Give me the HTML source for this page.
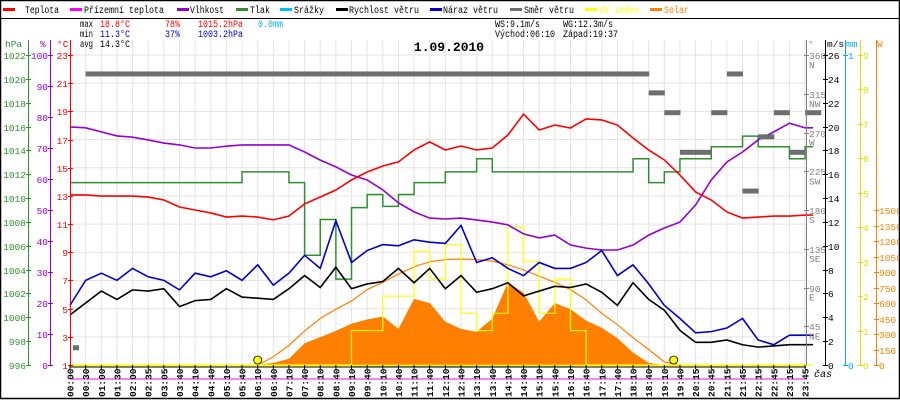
<!DOCTYPE html>
<html><head><meta charset="utf-8"><style>
html,body{margin:0;padding:0;background:#fff}
svg{display:block;font-family:"Liberation Mono","DejaVu Sans Mono",monospace}
</style></head><body>
<svg id="chart" width="900" height="400" viewBox="0 0 900 400" xmlns="http://www.w3.org/2000/svg">
<rect x="0" y="0" width="900" height="400" fill="#fff"/>
<g id="grid"></g>
<g id="marks"></g>
<g id="axes"></g>
<g id="legend" font-size="10"></g>
<g id="stats" font-size="10"></g>
<text x="449" y="51" text-anchor="middle" font-size="13" font-weight="bold" fill="#000">1.09.2010</text>
<rect x="0.5" y="0.5" width="899" height="398" fill="none" stroke="#000" stroke-width="1.5"/>
<line x1="0" y1="18.5" x2="900" y2="18.5" stroke="#000"/>
</svg>
<script>
const timeLabels=["00:00","00:30","01:00","01:30","02:00","02:35","03:05","03:40","04:10","04:40","05:10","05:40","06:10","06:40","07:10","07:40","08:10","08:40","09:10","09:40","10:10","10:40","11:10","11:40","12:10","12:40","13:10","13:40","14:10","14:40","15:10","15:40","16:10","16:40","17:10","17:40","18:10","18:40","19:10","19:40","20:15","20:45","21:15","21:45","22:15","22:45","23:15","23:45"];
const temperature=[13.07,13.07,12.99,12.99,12.99,12.92,12.71,12.21,12.0,11.79,11.5,11.57,11.5,11.3,11.57,12.43,12.92,13.42,14.13,14.7,15.12,15.41,16.26,16.83,16.26,16.54,16.26,16.4,17.32,18.8,17.68,18.03,17.82,18.46,18.39,18.03,17.11,16.26,15.55,14.48,13.28,12.71,11.86,11.43,11.5,11.57,11.57,11.64];
const humidity=[76.8,76.5,75.2,73.9,73.5,72.6,71.6,71.0,70.0,70.0,70.6,71.0,71.0,71.0,71.0,68.7,66.1,63.9,61.3,59.7,56.5,52.3,49.4,47.4,47.1,47.4,46.8,46.1,45.2,42.3,41.0,41.9,38.7,37.7,37.1,37.1,38.7,41.9,44.2,46.1,51.6,59.7,65.5,68.7,72.6,75.2,78.0,76.5];
const pressure=[1011.3,1011.3,1011.3,1011.3,1011.3,1011.3,1011.3,1011.3,1011.3,1011.3,1011.3,1012.2,1012.2,1012.2,1011.3,1005.2,1008.2,1003.2,1009.2,1010.3,1009.3,1010.3,1011.3,1011.3,1012.2,1012.2,1013.3,1012.2,1012.2,1012.2,1012.2,1012.2,1012.2,1012.2,1012.2,1012.2,1013.3,1011.3,1012.2,1013.3,1013.3,1014.3,1014.3,1015.2,1014.3,1014.3,1013.3,1014.3];
const windSpeed=[4.2,5.2,6.2,5.5,6.3,6.2,6.4,4.9,5.4,5.5,6.4,5.7,5.6,5.5,6.4,7.5,6.5,8.2,6.4,6.8,7.0,8.1,6.9,8.1,6.4,7.5,6.1,6.4,6.9,5.8,6.2,6.6,6.5,6.8,6.1,5.0,6.9,5.5,4.6,2.9,1.9,1.9,2.1,1.7,1.5,1.6,1.7,1.7];
const windGust=[5.0,7.1,7.7,7.1,8.1,7.4,7.1,6.3,7.7,7.4,7.9,7.1,8.4,6.7,7.7,9.2,8.1,12.1,8.6,9.6,10.1,10.0,10.5,10.3,10.2,11.7,8.6,9.0,8.1,7.5,8.6,8.1,8.1,8.6,9.6,7.5,8.4,6.8,5.0,3.9,2.7,2.8,3.1,3.9,2.1,1.7,2.5,2.5];
const windDir=[20,338,338,338,338,338,338,338,338,338,338,338,338,338,338,338,338,338,338,338,338,338,338,338,338,338,338,338,338,338,338,338,338,338,338,338,338,316,293,247,247,293,338,202,265,293,247,293];
const solar=[0,0,0,0,0,0,0,0,0,0,0,0,0,20,60,210,270,330,400,440,470,350,640,600,420,350,320,450,800,700,420,600,540,430,360,260,120,20,0,0,0,0,0,0,0,0,0,0];
const solarMax=[0,0,0,0,0,0,0,0,0,0,0,0,0,80,190,330,450,540,620,730,800,880,950,1000,1020,1026,1020,1005,970,920,860,800,730,630,500,390,265,150,30,0,0,0,0,0,0,0,0,0];
const uvIndex=[0,0,0,0,0,0,0,0,0,0,0,0,0,0,0,0,0,0,1.0,1.0,2.0,2.0,3.3,2.5,3.5,1.5,1.0,1.5,4.0,3.0,1.5,2.5,1.0,0,0,0,0,0,0,0,0,0,0,0,0,0,0,0];
const sunEvents=[12.0,38.6];
const tempTicks=[1,3,5,7,9,11,13,15,17,19,21,23];
const humTicks=[0,10,20,30,40,50,60,70,80,90,100];
const presTicks=[996,998,1000,1002,1004,1006,1008,1010,1012,1014,1016,1018,1020,1022];
const windTicks=[0,2,4,6,8,10,12,14,16,18,20,22,24,26];
const dirTicks=[45,90,135,180,225,270,315,360];
const dirNames=["NE","E","SE","S","SW","W","NW","N"];
const uvTicks=[0,1,2,3,4,5,6,7,8,9];
const solarTicks=[0,150,300,450,600,750,900,1050,1200,1350,1500];

const NS="http://www.w3.org/2000/svg";
const X0=70,DX=15.64,YB=365,YT=55;
const xS=i=>X0+i*DX;
const yT=v=>YB-(v-1)*(YB-YT)/22;
const yH=v=>YB-v*(YB-YT)/100;
const yP=v=>YB-(v-996)*(YB-YT)/26;
const yW=v=>YB-v*(YB-YT)/26;
const yD=v=>YB-v*(YB-YT)/360;
const yU=v=>YB-v*(YB-YT)/9;
const yS=v=>YB-v*155/1500;
function el(tag,attrs,parent){const e=document.createElementNS(NS,tag);for(const k in attrs)e.setAttribute(k,attrs[k]);parent.appendChild(e);return e;}
const grid=document.getElementById('grid'),marks=document.getElementById('marks'),axes=document.getElementById('axes');

for(let i=0;i<timeLabels.length;i++){
  const g=el('line',{x1:xS(i),y1:40,x2:xS(i),y2:YB,stroke:'#e6e2e2','stroke-width':1},grid);
  
  
}
tempTicks.forEach(t=>{
  const g=el('line',{x1:X0,y1:yT(t),x2:806,y2:yT(t),stroke:'#e6e2e2','stroke-width':1},grid);
  
  
});
const gl=el('line',{x1:X0,y1:379,x2:806,y2:379,stroke:'#ff00ff','stroke-width':1},marks);



{let d=`M${xS(0)},${YB}`;solar.forEach((v,i)=>{d+=` L${xS(i)},${yS(v)}`});d+=` L${xS(solar.length-1)},${YB} Z`;
const p=el('path',{d:d,fill:'#ff8000',stroke:'none'},marks);

}
{const pts=[];solarMax.forEach((v,i)=>{if(v>0||(solarMax[i-1]>0)||(solarMax[i+1]>0))pts.push(xS(i)+','+yS(v))});
const p=el('polyline',{points:pts.join(' '),fill:'none',stroke:'#ff8000','stroke-width':1.2},marks);

}
function stepLine(arr,fy,color,w,name){
  let d='';arr.forEach((v,i)=>{const x=xS(i),y=fy(v);d+=(i===0?`M${x},${y}`:` H${x} V${y}`)});
  d+=` H${xS(arr.length-1)+8}`;
  const p=el('path',{d:d,fill:'none',stroke:color,'stroke-width':w},marks);
  
  
}
function line(arr,fy,color,w,name){
  const p=el('polyline',{points:arr.map((v,i)=>xS(i)+','+fy(v)).join(' ')+' '+(xS(arr.length-1)+8)+','+fy(arr[arr.length-1]),fill:'none',stroke:color,'stroke-width':w},marks);
  
  
}
stepLine(uvIndex,yU,'#ffff00',1.2,'uv-index-line');
const rl=el('line',{x1:353,y1:366,x2:575,y2:366,stroke:'#00c0ff','stroke-width':2},marks);


stepLine(pressure,yP,'#2f8f2f',1.5,'pressure-line');
line(humidity,yH,'#9400d3',1.6,'humidity-line');
line(temperature,yT,'#ff0000',1.6,'temperature-line');
line(windGust,yW,'#0000cc',1.6,'wind-gust-line');
line(windSpeed,yW,'#000000',1.6,'wind-speed-line');
windDir.forEach((v,i)=>{
  const r=el('rect',{x:xS(i)-(i===0?-3:0),y:yD(v)-2.5,width:i===0?6:DX+0.5,height:5,fill:'#6e6e6e'},marks);
  
  
});
sunEvents.forEach(s=>{
  const c=el('circle',{cx:xS(s),cy:360,r:4,fill:'#ffff00',stroke:'#000','stroke-width':0.8},marks);
  
  
});
const yb=el('line',{x1:X0,y1:365.5,x2:806,y2:365.5,stroke:'#ffff00','stroke-width':1.5},axes);


const xb=el('line',{x1:X0,y1:367,x2:806,y2:367,stroke:'#000','stroke-width':1},axes);



function vAxis(x,ticks,fy,color,labels,anchorLeft,name,y1){
  const a=el('line',{x1:x+0.5,y1:y1||40,x2:x+0.5,y2:YB,stroke:color,'stroke-width':1},axes);
  
  
  ticks.forEach((t,k)=>{
    const y=Math.round(fy(t))+0.5;
    el('line',{x1:x-2,y1:y,x2:x+3,y2:y,stroke:color,'stroke-width':1},axes);
    const tx=el('text',{x:anchorLeft?x-2:x+3,y:y+3.5,'text-anchor':anchorLeft?'end':'start',fill:color,'font-size':9.5},axes);
    tx.textContent=labels?labels[k]:String(t);
    
    
  });
}
vAxis(28,presTicks,yP,'#2f8f2f',null,true,'pressure-axis');
vAxis(50,humTicks,yH,'#9400d3',null,true,'humidity-axis');
vAxis(70,tempTicks,yT,'#ff0000',null,true,'temperature-axis');
vAxis(806,dirTicks,yD,'#808080',null,false,'direction-axis');
dirTicks.forEach((t,k)=>{const tx=el('text',{x:809,y:yD(t)+13,fill:'#808080','font-size':9.5},axes);tx.textContent=dirNames[k];

});
vAxis(825,windTicks,yW,'#000000',null,false,'wind-axis');
vAxis(845,[0,1],v=>YB-v*310,'#00b0f0',null,false,'precipitation-axis');
vAxis(860,uvTicks,yU,'#e0e000',null,false,'uv-axis');
vAxis(876,solarTicks,yS,'#ff8000',null,false,'solar-axis',40);
[[5,'hPa','#2f8f2f'],[40,'%','#9400d3'],[57,'°C','#ff0000'],[808,'°','#808080'],[827,'m/s','#000'],[846,'mm','#00b0f0'],[877,'W','#ff8000']].forEach(a=>{
  const t=el('text',{x:a[0],y:47,fill:a[2],'font-size':9.5},axes);t.textContent=a[1];
  
  
});
timeLabels.forEach((l,i)=>{
  const x=xS(i);
  el('line',{x1:x,y1:365,x2:x,y2:369,stroke:'#000'},axes);
  const t=el('text',{x:0,y:0,transform:`translate(${x+3.5},397) rotate(-90)`,fill:'#000','font-size':9.5,'font-weight':'bold'},axes);
  t.textContent=l;
  
  
});
{const t=el('text',{x:814,y:377,fill:'#000','font-size':10,'font-style':'italic'},axes);t.textContent='čas';

}

const legend=document.getElementById('legend');
[[3,25,'Teplota','#ff0000',34],[70,84,'Přízemní teplota','#ff00ff',80],[177,190,'Vlhkost','#9400d3',34],[236,250,'Tlak','#2f8f2f',20],[280,294,'Srážky','#00c0ff',30],[336,349,'Rychlost větru','#000',70],[430,443,'Náraz větru','#0000cc',55],[510,524,'Směr větru','#6e6e6e',50],[585,599,'UV index','#ffff00',40],[650,664,'Solar','#ff8000',25]].forEach(e=>{
  const g=el('g',{},legend);
  
  
  el('rect',{x:e[0],y:8,width:12,height:3,fill:e[3]},g);
  const t=el('text',{x:e[1],y:13,fill:e[3]==='#ffff00'?'#ffff00':(e[3]==='#ff8000'?'#ff8000':'#000'),textLength:e[4],lengthAdjust:'spacingAndGlyphs'},g);
  t.textContent=e[2];
});
const stats=document.getElementById('stats');
[[80,27,'max','#000',13],[100,27,'18.8°C','#ff0000',30],[165,27,'78%','#ff0000',15],[198,27,'1015.2hPa','#ff0000',45],[258,27,'0.0mm','#00b0f0',25],
 [80,37,'min','#000',13],[100,37,'11.3°C','#0000cc',30],[165,37,'37%','#0000cc',15],[198,37,'1003.2hPa','#0000cc',45],
 [80,47,'avg','#000',13],[100,47,'14.3°C','#000',30],
 [495,27,'WS:9.1m/s','#000',45],[563,27,'WG:12.3m/s','#000',50],[495,37,'Východ:06:10','#000',60],[563,37,'Západ:19:37','#000',55]].forEach(s=>{
  const t=el('text',{x:s[0],y:s[1],fill:s[3],textLength:s[4],lengthAdjust:'spacingAndGlyphs'},stats);
  t.textContent=s[2];
  
  
});
</script>
</body></html>
